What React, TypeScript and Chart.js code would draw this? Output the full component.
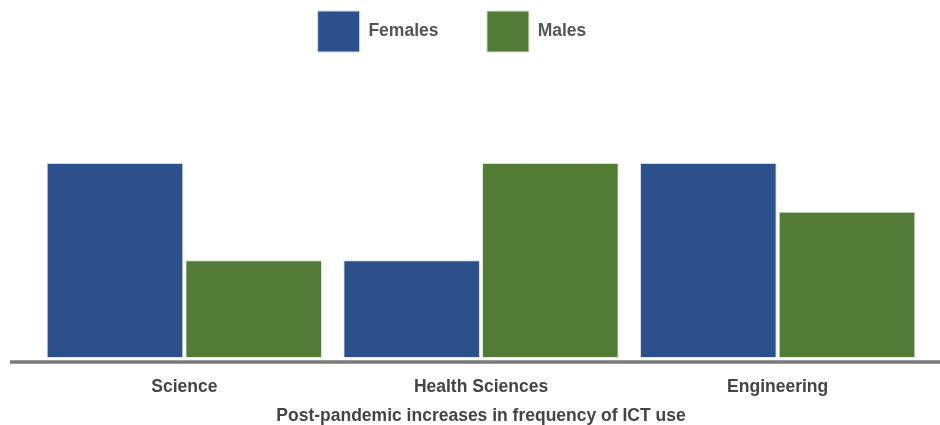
import React, { useEffect, useRef } from "react";
import { Chart, registerables } from "chart.js";

Chart.register(...registerables);

const categories = ["Science", "Health Sciences", "Engineering"];
const females = [4, 2, 4];
const males = [2, 4, 3];
const axisTitle = "Post-pandemic increases in frequency of ICT use";

const FONT = "Liberation Sans, Arial, Helvetica, sans-serif";

// Thick grey baseline drawn across the canvas width, just below the bars.
const baselinePlugin = {
  id: "baseline",
  afterDatasetsDraw(chart: any) {
    const { ctx, chartArea } = chart;
    ctx.save();
    ctx.strokeStyle = "#787878";
    ctx.lineWidth = 3.5;
    ctx.beginPath();
    ctx.moveTo(10, chartArea.bottom + 4.5);
    ctx.lineTo(chart.width, chartArea.bottom + 4.5);
    ctx.stroke();
    ctx.restore();
  },
};

// Nudges the legend row a little to the left of the plot centre.
const legendOffsetPlugin = {
  id: "legendOffset",
  afterLayout(chart: any) {
    const lg = chart.legend;
    if (lg) {
      lg.left -= 29;
      lg.right -= 29;
    }
  },
};

export default function App() {
  const ref = useRef<HTMLCanvasElement>(null);

  useEffect(() => {
    document.body.style.margin = "0";
    const chart = new Chart(ref.current!, {
      type: "bar",
      data: {
        labels: categories,
        datasets: [
          {
            label: "Females",
            data: females,
            backgroundColor: "#2b508c",
            borderColor: "#d4dbe6",
            borderWidth: 1,
            barPercentage: 0.985,
            categoryPercentage: 0.935,
          },
          {
            label: "Males",
            data: males,
            backgroundColor: "#527c35",
            borderColor: "#d9e2d2",
            borderWidth: 1,
            barPercentage: 0.985,
            categoryPercentage: 0.935,
          },
        ],
      },
      options: {
        animation: false,
        responsive: false,
        layout: { padding: { left: 36, right: 14, top: -37.5, bottom: -2 } },
        plugins: {
          legend: {
            position: "top",
            labels: {
              boxWidth: 42,
              boxHeight: 41,
              padding: 48.5,
              color: "#555555",
              font: { family: FONT, size: 17.5, weight: "bold" },
            },
          },
          tooltip: { enabled: false },
        },
        scales: {
          x: {
            grid: { display: false, drawTicks: false },
            border: { display: false },
            ticks: {
              color: "#444444",
              padding: 19.5,
              font: { family: FONT, size: 17.5, weight: "bold" },
            },
            title: {
              display: true,
              text: axisTitle,
              color: "#444444",
              padding: { top: -11.5, bottom: 0 },
              font: { family: FONT, size: 17.5, weight: "bold" },
            },
          },
          y: {
            display: false,
            min: 0,
            max: 6.08,
          },
        },
      },
      plugins: [baselinePlugin, legendOffsetPlugin],
    });
    return () => chart.destroy();
  }, []);

  return (
    <div style={{ width: 940, height: 425, background: "#ffffff" }}>
      <canvas ref={ref} width={940} height={425} />
    </div>
  );
}
